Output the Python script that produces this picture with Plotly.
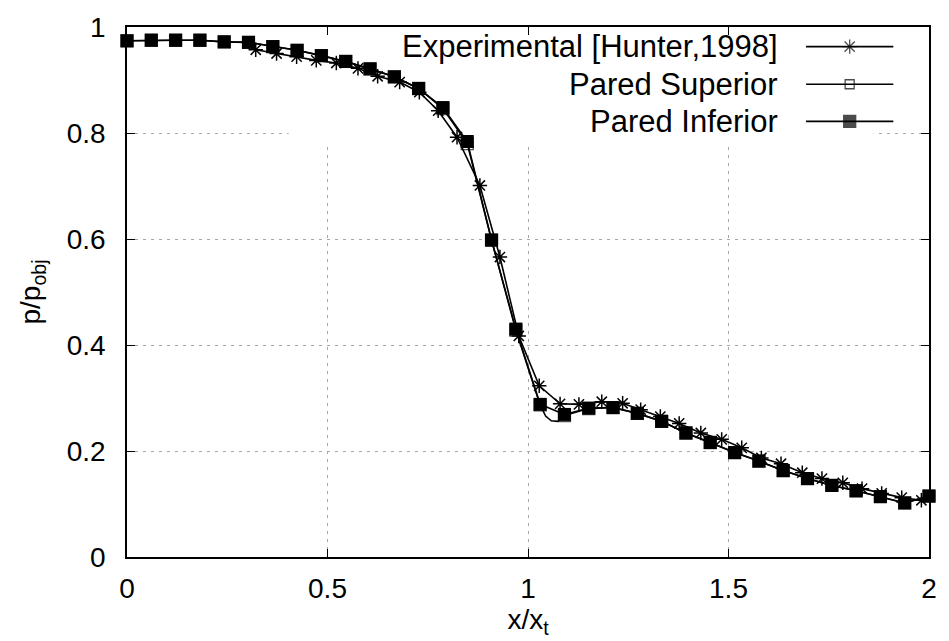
import plotly.graph_objects as go

# ---------------- data ----------------
exp_x = [0.321, 0.373, 0.423, 0.472, 0.522, 0.576, 0.625, 0.680, 0.729, 0.776,
         0.823, 0.880, 0.930, 0.977, 1.028, 1.080, 1.127, 1.184, 1.236, 1.281,
         1.330, 1.377, 1.431, 1.483, 1.533, 1.582, 1.631, 1.684, 1.733, 1.785,
         1.833, 1.882, 1.932, 1.981]
exp_y = [0.957, 0.950, 0.944, 0.937, 0.932, 0.922, 0.907, 0.896, 0.877, 0.842,
         0.792, 0.701, 0.566, 0.417, 0.323, 0.289, 0.288, 0.293, 0.290, 0.278,
         0.265, 0.252, 0.234, 0.222, 0.206, 0.187, 0.176, 0.159, 0.148, 0.140,
         0.129, 0.120, 0.112, 0.107]

sim_x = [0.0, 0.0606, 0.1212, 0.1818, 0.2424, 0.3030, 0.3636, 0.4242, 0.4848,
         0.5455, 0.6061, 0.6667, 0.7273, 0.7879, 0.8485, 0.9091, 0.9697, 1.0303,
         1.0909, 1.1515, 1.2121, 1.2727, 1.3333, 1.3939, 1.4545, 1.5152, 1.5758,
         1.6364, 1.6970, 1.7576, 1.8182, 1.8788, 1.9394, 2.0]
inf_y = [0.974, 0.975, 0.975, 0.975, 0.972, 0.971, 0.963, 0.956, 0.946,
         0.935, 0.921, 0.906, 0.884, 0.848, 0.784, 0.598, 0.430, 0.288,
         0.269, 0.281, 0.282, 0.271, 0.256, 0.234, 0.216, 0.197, 0.181,
         0.163, 0.148, 0.135, 0.125, 0.114, 0.102, 0.115]
sup_y = [0.974, 0.975, 0.975, 0.975, 0.972, 0.971, 0.963, 0.956, 0.946,
         0.935, 0.921, 0.906, 0.884, 0.846, 0.780, 0.598, 0.428, 0.287,
         0.267, 0.280, 0.282, 0.271, 0.256, 0.234, 0.216, 0.197, 0.181,
         0.163, 0.148, 0.135, 0.125, 0.114, 0.102, 0.115]
# extra (unmarked) points of the Pared Superior curve around its dip
sup_extra_x = [1.044, 1.058, 1.074]
sup_extra_y = [0.266, 0.257, 0.256]

names = ["Experimental [Hunter,1998]", "Pared Superior", "Pared Inferior"]
x_ticks = [0, 0.5, 1, 1.5, 2]
y_ticks = [0, 0.2, 0.4, 0.6, 0.8, 1]

# ---------------- styling ----------------
FONT = "Liberation Sans, Arial, sans-serif"
FS = 28
KEY_FS = 31
MS = 12
LW = 1.6
sup_pts = sorted(zip(sim_x + sup_extra_x, sup_y + sup_extra_y))
sup_xx = [p[0] for p in sup_pts]
sup_yy = [p[1] for p in sup_pts]
sup_sizes = [MS if xv in sim_x else 0 for xv in sup_xx]

fig = go.Figure()
fig.add_trace(go.Scatter(
    x=exp_x, y=exp_y, mode="lines+markers", name=names[0], showlegend=False,
    line=dict(color="black", width=LW), cliponaxis=False,
    marker=dict(symbol="asterisk-open", size=12, color="black",
                line=dict(color="black", width=1.5))))
fig.add_trace(go.Scatter(
    x=sup_xx, y=sup_yy, mode="lines+markers", name=names[1], showlegend=False,
    line=dict(color="black", width=LW), cliponaxis=False,
    marker=dict(symbol="square-open", size=sup_sizes, color="black",
                line=dict(color="black", width=1.3))))
fig.add_trace(go.Scatter(
    x=sim_x, y=inf_y, mode="lines+markers", name=names[2], showlegend=False,
    line=dict(color="black", width=LW), cliponaxis=False,
    marker=dict(symbol="square", size=MS + 1, color="black")))

# ---------------- custom gnuplot-style key ----------------
key_rows = [0.963, 0.892, 0.822]       # paper y of key rows
key_text_right = 0.8146
key_line = [0.8467, 0.9011, 0.9555]
key_syms = [("asterisk-open", 12), ("square-open", 9), ("square", 12)]
for i, (nm, ky) in enumerate(zip(names, key_rows)):
    fig.add_annotation(x=key_text_right, y=ky, xref="paper", yref="paper",
                       text=nm, showarrow=False, xanchor="right", yanchor="middle",
                       font=dict(family=FONT, size=KEY_FS, color="black"))
    sym, sz = key_syms[i]
    fig.add_trace(go.Scatter(
        x=key_line, y=[ky] * 3, xaxis="x2", yaxis="y2", mode="lines+markers",
        showlegend=False, hoverinfo="skip", cliponaxis=False,
        line=dict(color="black", width=LW),
        marker=dict(symbol=sym, size=[0, sz, 0], color="black",
                    line=dict(color="black", width=1.3))))

# white key box hiding grid lines (drawn between grid and traces)
fig.add_shape(type="rect", xref="x", yref="y", x0=0.403, x1=1.862,
              y0=0.783, y1=1.0, fillcolor="white", line=dict(width=0),
              layer="between")

axis_common = dict(showline=True, linecolor="black", linewidth=1.5, mirror="ticks",
                   ticks="inside", ticklen=8, tickwidth=1.2, tickcolor="black",
                   showgrid=True, gridcolor="#a8a8a8", gridwidth=1.3,
                   griddash="3px,5px", zeroline=False,
                   tickfont=dict(family=FONT, size=FS, color="black"))

fig.update_layout(
    width=949, height=641,
    margin=dict(l=127, r=13, t=22, b=84),
    plot_bgcolor="white", paper_bgcolor="white",
    font=dict(family=FONT, size=FS, color="black"),
    xaxis=dict(range=[0, 2], tickvals=x_ticks, ticktext=[f"{v:g}" for v in x_ticks],
               ticklabelstandoff=6,
               title=dict(text="x/x<sub>t</sub>", standoff=2,
                          font=dict(family=FONT, size=FS)),
               **axis_common),
    yaxis=dict(range=[0, 1], tickvals=y_ticks, ticktext=[f"{v:g}" for v in y_ticks],
               ticklabelstandoff=14,
               title=dict(text="p/p<sub>obj</sub>", standoff=18,
                          font=dict(family=FONT, size=FS)),
               **axis_common),
    xaxis2=dict(range=[0, 1], overlaying="x", visible=False, fixedrange=True),
    yaxis2=dict(range=[0, 1], overlaying="y", visible=False, fixedrange=True),
)

fig.write_html("out.html")
